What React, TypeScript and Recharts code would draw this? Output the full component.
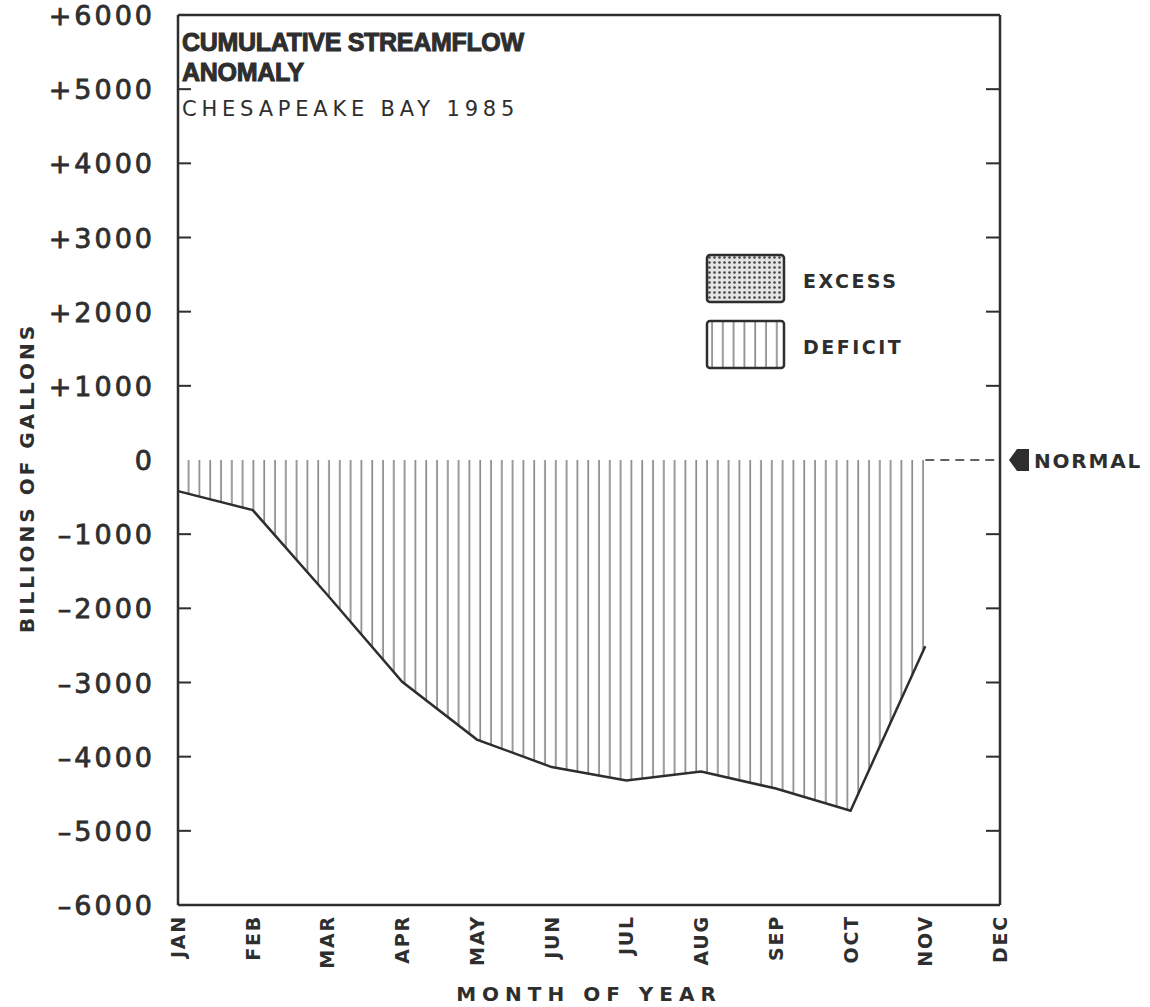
import { Area, AreaChart, Legend, ReferenceLine, XAxis, YAxis } from "recharts";

const months = ["JAN", "FEB", "MAR", "APR", "MAY", "JUN", "JUL", "AUG", "SEP", "OCT", "NOV", "DEC"];
// cumulative anomaly, billions of gallons (no value for DEC)
const anomaly = [-420, -675, -1820, -2990, -3770, -4140, -4320, -4200, -4430, -4730, -2510, null];
const yTicks = [-6000, -5000, -4000, -3000, -2000, -1000, 0, 1000, 2000, 3000, 4000, 5000, 6000];
const innerTicks = [-5000, -4000, -3000, -2000, -1000, 1000, 2000, 3000, 4000, 5000];
const legendItems = [
  { label: "EXCESS", fill: "url(#dots)" },
  { label: "DEFICIT", fill: "url(#vlines)" },
];

const data = months.map((m, i) => ({ month: m, anomaly: anomaly[i] }));

const INK = "#2e2e2e";
const BOLD = "'DejaVu Sans', sans-serif";

const fmtY = (v: number) => (v > 0 ? `+${v}` : v < 0 ? `\u2013${-v}` : "0");

function LeftTick(props: any) {
  const { x, y, payload } = props;
  return (
    <text
      x={x}
      y={y}
      dy={10}
      textAnchor="end"
      fontFamily={BOLD}
      fontSize={27}
      letterSpacing={3}
      fill={INK}
      stroke={INK}
      strokeWidth={0.8}
    >
      {fmtY(payload.value)}
    </text>
  );
}

// short tick mark on the left frame, pointing into the plot
function LeftFrameMark(props: any) {
  const { viewBox } = props;
  const y = viewBox.y;
  return <line x1={viewBox.x} x2={viewBox.x + 13} y1={y} y2={y} stroke={INK} strokeWidth={2} />;
}

function RightMark(props: any) {
  const { x, y } = props;
  return <line x1={x - 14} x2={x} y1={y} y2={y} stroke={INK} strokeWidth={2} />;
}

function MonthTick(props: any) {
  const { x, y, payload } = props;
  return (
    <text
      transform={`translate(${x + 7},${y + 2}) rotate(-90)`}
      textAnchor="end"
      fontFamily={BOLD}
      fontWeight="bold"
      fontSize={19}
      letterSpacing={1.8}
      fill={INK}
    >
      {payload.value}
    </text>
  );
}

function TitleLabel(props: any) {
  const { viewBox } = props;
  const x = viewBox.x + 4;
  const y = viewBox.y;
  return (
    <g>
      <text x={x} y={y + 36} fontFamily="'Liberation Sans', sans-serif" fontWeight="bold" fontSize={25} letterSpacing={-0.3} fill={INK} stroke={INK} strokeWidth={1}>
        CUMULATIVE STREAMFLOW
      </text>
      <text x={x} y={y + 66} fontFamily="'Liberation Sans', sans-serif" fontWeight="bold" fontSize={25} letterSpacing={-0.3} fill={INK} stroke={INK} strokeWidth={1}>
        ANOMALY
      </text>
      <text x={x} y={y + 101} fontFamily={BOLD} fontSize={21} letterSpacing={4.8} fill={INK}>
        CHESAPEAKE BAY 1985
      </text>
    </g>
  );
}

function MonthAxisLabel(props: any) {
  const { viewBox } = props;
  return (
    <text
      x={viewBox.x + viewBox.width / 2}
      y={viewBox.y + viewBox.height - 6}
      textAnchor="middle"
      fontFamily={BOLD}
      fontWeight="bold"
      fontSize={20}
      letterSpacing={6}
      fill={INK}
    >
      MONTH OF YEAR
    </text>
  );
}

function ValueAxisLabel(props: any) {
  const { viewBox } = props;
  const cy = viewBox.y + viewBox.height / 2;
  return (
    <text
      transform={`translate(34,${cy + 18}) rotate(-90)`}
      textAnchor="middle"
      fontFamily={BOLD}
      fontWeight="bold"
      fontSize={20}
      letterSpacing={3}
      fill={INK}
    >
      BILLIONS OF GALLONS
    </text>
  );
}

function NormalLabel(props: any) {
  const { viewBox } = props;
  const x = viewBox.x + viewBox.width;
  const y = viewBox.y;
  return (
    <g>
      <polygon
        points={`${x + 9},${y} ${x + 17},${y - 11} ${x + 29},${y - 11} ${x + 29},${y + 11} ${x + 17},${y + 11}`}
        fill={INK}
      />
      <text x={x + 34} y={y + 8} fontFamily={BOLD} fontWeight="bold" fontSize={20} letterSpacing={1.8} fill={INK}>
        NORMAL
      </text>
    </g>
  );
}

function LegendBoxes() {
  return (
    <svg width={220} height={130}>
      {legendItems.map((item, i) => (
        <g key={item.label} transform={`translate(3,${3 + i * 66})`}>
          <rect x={0} y={0} width={77} height={47} rx={3} fill={item.fill} stroke={INK} strokeWidth={2.5} />
          <text x={96} y={33} fontFamily={BOLD} fontWeight="bold" fontSize={19} letterSpacing={2.5} fill={INK}>
            {item.label}
          </text>
        </g>
      ))}
    </svg>
  );
}

export default function App() {
  return (
    <div style={{ position: "absolute", left: 0, top: 0, width: 1150, height: 1007, background: "#fff" }}>
      <AreaChart width={1150} height={1007} data={data} margin={{ top: 15, right: 150, bottom: 0, left: 0 }}>
        <defs>
          <pattern id="vlines" patternUnits="userSpaceOnUse" width={10.8} height={10}>
            <line x1={5} x2={5} y1={0} y2={10} stroke="#4a4a4a" strokeWidth={1.1} />
          </pattern>
          <pattern id="dots" patternUnits="userSpaceOnUse" width={5} height={5}>
            <rect width={5} height={5} fill="#e4e4e4" />
            <circle cx={2.5} cy={2.5} r={1.3} fill="#444" />
          </pattern>
        </defs>
        <XAxis
          dataKey="month"
          interval={0}
          height={102}
          tickLine={false}
          tick={<MonthTick />}
          axisLine={{ stroke: INK, strokeWidth: 2.5 }}
          label={<MonthAxisLabel />}
        />
        <YAxis
          yAxisId="left"
          type="number"
          domain={[-6000, 6000]}
          ticks={yTicks}
          interval={0}
          width={178}
          tickSize={6}
          tickMargin={17}
          tickLine={false}
          tick={<LeftTick />}
          axisLine={{ stroke: INK, strokeWidth: 2.5 }}
          label={<ValueAxisLabel />}
        />
        <YAxis
          yAxisId="right"
          orientation="right"
          type="number"
          dataKey="anomaly"
          domain={[-6000, 6000]}
          ticks={innerTicks}
          interval={0}
          mirror
          tickSize={0}
          tickMargin={0}
          tickLine={false}
          tick={<RightMark />}
          axisLine={{ stroke: INK, strokeWidth: 2.5 }}
        />
        <Legend
          layout="horizontal"
          verticalAlign="middle"
          align="center"
          content={() => <LegendBoxes />}
          wrapperStyle={{ position: "absolute", left: 704, top: 252, width: 220, height: 130 }}
        />
        <Area
          yAxisId="left"
          type="linear"
          dataKey="anomaly"
          baseValue={0}
          stroke={INK}
          strokeWidth={2.5}
          fill="url(#vlines)"
          fillOpacity={1}
          connectNulls={false}
          dot={false}
          activeDot={false}
          isAnimationActive={false}
        />
        {innerTicks.map((v) => (
          <ReferenceLine key={v} yAxisId="left" y={v} stroke="none" label={<LeftFrameMark />} />
        ))}
        <ReferenceLine yAxisId="left" y={6000} stroke={INK} strokeWidth={2.5} label={<TitleLabel />} />
        <ReferenceLine
          yAxisId="left"
          segment={[{ x: "JAN", y: 0 }, { x: "NOV", y: 0 }]}
          stroke="#555"
          strokeWidth={1.3}
          strokeDasharray="8 3"
        />
        <ReferenceLine
          yAxisId="left"
          segment={[{ x: "NOV", y: 0 }, { x: "DEC", y: 0 }]}
          stroke={INK}
          strokeWidth={1.5}
          strokeDasharray="9 6"
          label={<NormalLabel />}
        />
      </AreaChart>
    </div>
  );
}
